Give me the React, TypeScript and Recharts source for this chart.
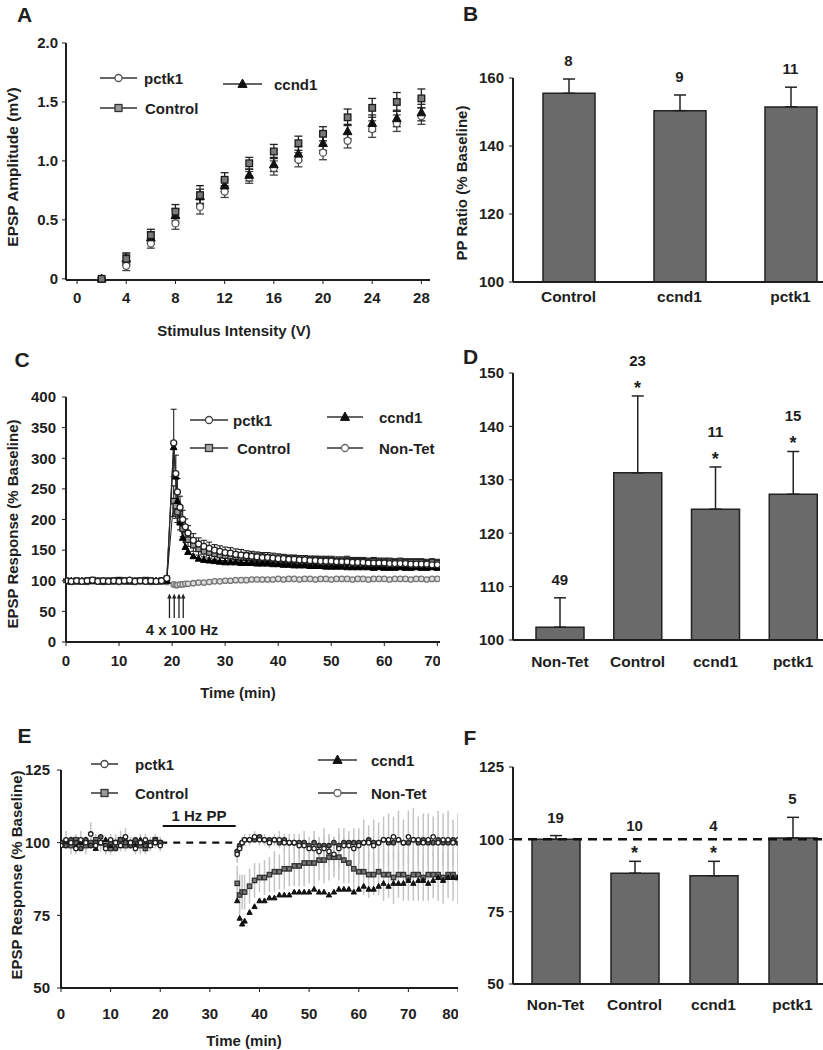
import React from 'react'
import { ComposedChart, Line, Bar, XAxis, YAxis, ErrorBar, ReferenceLine, ReferenceDot, LabelList } from 'recharts'

const FONT = "'Liberation Sans', Arial, Helvetica, sans-serif"
const INK = '#1e1e1e'
const BAR = '#6a6a6a'

// ---- A: input / output curve
const stimV = [2, 4, 6, 8, 10, 12, 14, 16, 18, 20, 22, 24, 26, 28]
const ampControl = [0, 0.17, 0.37, 0.57, 0.71, 0.84, 0.98, 1.08, 1.15, 1.23, 1.37, 1.45, 1.5, 1.53]
const ampCcnd1 = [0, 0.17, 0.35, 0.54, 0.7, 0.79, 0.88, 0.97, 1.06, 1.15, 1.25, 1.32, 1.36, 1.41]
const ampPctk1 = [0, 0.11, 0.3, 0.47, 0.61, 0.74, 0.86, 0.94, 1.01, 1.07, 1.17, 1.27, 1.32, 1.38]
const semControl = [0.01, 0.05, 0.05, 0.06, 0.08, 0.06, 0.05, 0.06, 0.06, 0.06, 0.07, 0.08, 0.08, 0.08]
const semCcnd1 = [0.01, 0.04, 0.05, 0.05, 0.06, 0.05, 0.05, 0.06, 0.06, 0.06, 0.06, 0.07, 0.07, 0.07]
const semPctk1 = [0.01, 0.04, 0.04, 0.05, 0.06, 0.05, 0.05, 0.06, 0.06, 0.06, 0.06, 0.07, 0.07, 0.07]

// ---- B: paired-pulse ratio
const ppGroups = ['Control', 'ccnd1', 'pctk1']
const ppMean = [155.5, 150.4, 151.5]
const ppSem = [4.2, 4.6, 5.8]
const ppN = ['8', '9', '11']
const ppSig = [false, false, false]

// ---- C: LTP time course
const tC = [0, 1, 2, 3, 4, 5, 6, 7, 8, 9, 10, 11, 12, 13, 14, 15, 16, 17, 18, 19,
  20.3, 20.7, 21, 21.5, 22, 22.5, 23,
  24, 25, 26, 27, 28, 29, 30, 31, 32, 33, 34, 35, 36, 37, 38, 39, 40, 41, 42, 43, 44, 45, 46, 47,
  48, 49, 50, 51, 52, 53, 54, 55, 56, 57, 58, 59, 60, 61, 62, 63, 64, 65, 66, 67, 68, 69, 70]
const ltpControl = [100, 99, 100, 99, 100, 101, 100, 99, 100, 100, 101, 100, 99, 100, 100, 101, 100, 99, 100, 101,
  230, 222, 212, 198, 185, 175, 167,
  158, 152, 148, 146, 144, 142, 141, 140, 139, 138, 138, 137, 137, 136, 136, 135, 135, 135, 134, 134,
  134, 134, 133, 133, 133, 133, 133, 132, 132, 133, 132, 132, 132, 131, 132, 131, 131, 131, 130, 131,
  130, 130, 130, 130, 129, 130, 129]
const ltpCcnd1 = [99, 100, 99, 100, 99, 100, 99, 100, 99, 99, 100, 99, 100, 99, 100, 99, 99, 100, 99, 100,
  318, 270, 230, 195, 170, 155, 147,
  140, 136, 134, 133, 132, 131, 130, 130, 130, 129, 129, 129, 128, 128, 128, 127, 127, 126, 126, 125,
  125, 125, 124, 124, 124, 123, 123, 123, 123, 122, 122, 122, 122, 122, 121, 122, 121, 121, 121, 122,
  121, 121, 122, 121, 121, 122, 121]
const ltpPctk1 = [100, 99, 100, 99, 100, 101, 99, 100, 99, 100, 99, 100, 101, 99, 100, 99, 100, 99, 100, 104,
  325, 275, 245, 220, 200, 188, 178,
  166, 160, 156, 153, 150, 148, 146, 145, 143, 142, 141, 140, 139, 138, 138, 137, 136, 136, 135, 135,
  134, 134, 133, 133, 132, 132, 132, 131, 131, 131, 130, 130, 130, 129, 129, 129, 129, 128, 128, 128,
  128, 127, 127, 127, 127, 126, 126]
const ltpNonTet = [99, 98, 99, 99, 98, 99, 99, 98, 99, 99, 98, 99, 99, 98, 99, 99, 98, 99, 99, 98,
  94, 93, 93, 94, 94, 95, 95,
  96, 97, 97, 98, 99, 99, 100, 100, 101, 101, 101, 102, 102, 102, 102, 102, 103, 102, 103, 103,
  102, 103, 103, 102, 103, 103, 102, 103, 103, 103, 102, 103, 103, 102, 103, 103, 103, 102, 103, 103,
  103, 102, 103, 103, 102, 103, 103]
const errPctk1C = [3, 3, 3, 2, 3, 3, 3, 2, 3, 3, 3, 3, 2, 3, 3, 3, 3, 2, 3, 4,
  55, 30, 22, 18, 15, 13, 12,
  11, 10, 10, 10, 9, 9, 9, 9, 9, 9, 8, 8, 8, 8, 8, 8, 8, 7, 7, 7,
  7, 7, 7, 7, 7, 7, 6, 6, 6, 6, 6, 6, 6, 6, 6, 6, 6, 6, 6, 6,
  6, 6, 6, 6, 6, 6, 6]
const errControlC = [2, 2, 2, 2, 2, 2, 2, 2, 2, 2, 2, 2, 2, 2, 2, 2, 2, 2, 2, 2,
  25, 20, 17, 15, 13, 12, 11,
  10, 10, 9, 9, 9, 9, 8, 8, 8, 8, 8, 8, 8, 8, 7, 7, 7, 7, 7, 7,
  7, 7, 7, 7, 7, 7, 7, 7, 7, 7, 6, 6, 6, 6, 6, 6, 6, 6, 6, 6,
  6, 6, 6, 6, 6, 6, 6]
const tetanusT = [19.5, 20.4, 21.3, 22.1]

// ---- D: LTP summary
const ltpGroups = ['Non-Tet', 'Control', 'ccnd1', 'pctk1']
const ltpMean = [102.4, 131.3, 124.5, 127.3]
const ltpSem = [5.5, 14.4, 7.9, 8.0]
const ltpN = ['49', '23', '11', '15']
const ltpSig = [false, true, true, true]

// ---- E: LTD time course
const tE = [0, 1, 2, 3, 4, 5, 6, 7, 8, 9, 10, 11, 12, 13, 14, 15, 16, 17, 18, 19, 20,
  35.5, 36, 36.5, 37,
  38, 39, 40, 41, 42, 43, 44, 45, 46, 47, 48, 49, 50, 51, 52, 53, 54, 55, 56, 57, 58, 59,
  60, 61, 62, 63, 64, 65, 66, 67, 68, 69, 70, 71, 72, 73, 74, 75, 76, 77, 78, 79, 80]
const ltdNonTet = [100, 99, 101, 100, 98, 101, 99, 100, 102, 99, 100, 98, 101, 100, 99, 101, 100, 99, 100, 101, 100,
  97, 99, 100, 101,
  101, 101, 102, 101, 101, 101, 100, 101, 100, 100, 100, 100, 99, 100, 99, 99, 99, 100, 99, 100,
  100, 100, 100, 100, 101, 100, 100, 101, 100, 100, 101, 100, 100, 101, 100, 101, 100, 100, 101, 100,
  100, 101, 100]
const ltdPctk1 = [99, 101, 100, 98, 101, 100, 103, 99, 100, 98, 101, 100, 99, 102, 100, 98, 100, 101, 99, 100, 99,
  96, 98, 100, 101,
  101, 102, 101, 101, 100, 101, 101, 100, 100, 100, 99, 99, 98, 98, 97, 98, 97, 96, 98, 99,
  99, 98, 99, 100, 100, 99, 100, 101, 101, 102, 101, 100, 102, 101, 101, 100, 101, 102, 100, 101,
  101, 100, 101]
const ltdControl = [100, 100, 99, 101, 100, 99, 100, 101, 100, 99, 98, 100, 101, 99, 100, 100, 99, 98, 100, 101, 100,
  86, 82, 83, 83,
  85, 87, 88, 88, 89, 90, 90, 91, 91, 92, 92, 93, 93, 93, 94, 94, 95, 95, 95, 94,
  93, 91, 90, 90, 89, 89, 90, 89, 89, 88, 89, 89, 88, 89, 89, 88, 89, 89, 89, 88,
  89, 89, 88]
const ltdCcnd1 = [99, 100, 101, 99, 100, 101, 99, 98, 100, 101, 99, 100, 99, 101, 100, 99, 101, 100, 99, 100, 100,
  80, 74, 72, 73,
  76, 78, 80, 80, 81, 81, 82, 82, 82, 83, 83, 83, 83, 84, 83, 83, 82, 83, 84, 84,
  84, 83, 84, 85, 84, 84, 85, 86, 85, 86, 86, 86, 87, 86, 87, 87, 86, 87, 88, 87,
  88, 88, 88]
const errControlE = [2, 2, 3, 2, 2, 3, 2, 2, 2, 3, 2, 2, 3, 2, 2, 2, 3, 2, 2, 2, 2,
  6, 7, 6, 6,
  6, 6, 5, 6, 6, 7, 6, 7, 6, 7, 7, 8, 7, 8, 7, 8, 8, 7, 8, 8,
  7, 8, 7, 8, 8, 7, 8, 9, 8, 9, 8, 9, 8, 9, 9, 8, 9, 8, 9, 9,
  8, 9, 9]
const errPctk1E = [2, 3, 2, 2, 3, 2, 4, 2, 3, 2, 2, 3, 2, 3, 2, 2, 3, 2, 2, 2, 2,
  3, 2, 2, 2,
  2, 2, 2, 2, 2, 2, 3, 3, 3, 3, 4, 5, 4, 6, 5, 7, 5, 6, 7, 6,
  5, 7, 6, 8, 6, 9, 7, 8, 9, 7, 10, 8, 9, 11, 8, 10, 9, 7, 11, 9,
  10, 8, 9]

// ---- F: LTD summary
const ltdGroups = ['Non-Tet', 'Control', 'ccnd1', 'pctk1']
const ltdMean = [100, 88.3, 87.4, 100.5]
const ltdSem = [1.3, 4.1, 5.0, 7.1]
const ltdN = ['19', '10', '4', '5']
const ltdSig = [false, true, true, false]

const tick = { fill: INK, fontSize: 15, fontWeight: 700, fontFamily: FONT }
const axisLine = { stroke: INK, strokeWidth: 2 }

type Kind = 'circle' | 'square' | 'triangle'

function mark(kind: Kind, cx: number, cy: number, s: number, fill: string, stroke: string, key?: any) {
  if (kind === 'circle') return <circle key={key} cx={cx} cy={cy} r={s} fill={fill} stroke={stroke} strokeWidth={1.3} />
  if (kind === 'square') return <rect key={key} x={cx - s} y={cy - s} width={s * 2} height={s * 2} fill={fill} stroke={stroke} strokeWidth={1.3} />
  return <path key={key} d={`M${cx},${cy - s * 1.25}L${cx + s * 1.15},${cy + s * 0.85}L${cx - s * 1.15},${cy + s * 0.85}Z`} fill={fill} stroke={stroke} strokeWidth={1} />
}

const dotFn = (kind: Kind, s: number, fill: string, stroke: string) => (p: any) => {
  if (p.cx == null || p.cy == null || p.value == null) return <g key={p.key} />
  return mark(kind, p.cx, p.cy, s, fill, stroke, p.key)
}

function T({ x, y, children, size = 15, anchor = 'middle', rotate = false }: any) {
  const tx = anchor === 'middle' ? '-50%' : anchor === 'start' ? '0' : '-100%'
  return (
    <div style={{
      position: 'absolute', left: x, top: y, whiteSpace: 'nowrap', lineHeight: 1,
      transform: `translate(${tx}, -50%)${rotate ? ' rotate(-90deg)' : ''}`,
      fontFamily: FONT, fontWeight: 700, fontSize: size, color: INK,
    }}>{children}</div>
  )
}

function Key({ x1, x2, y, tx, kind, fill, stroke, label }: any) {
  const w = x2 - x1
  return (
    <>
      <svg style={{ position: 'absolute', left: x1, top: y - 8 }} width={w} height={16}>
        <line x1={0} y1={8} x2={w} y2={8} stroke="#333" strokeWidth={1.5} />
        {mark(kind, w / 2, 8, kind === 'triangle' ? 4 : 3.5, fill, stroke)}
      </svg>
      <T x={tx} y={y} anchor="start">{label}</T>
    </>
  )
}

const countLabel = (p: any) => {
  const vb = p.viewBox || {}
  const cx = (vb.x ?? p.x) + (vb.width ?? 0) / 2
  const cy = vb.y ?? p.y
  const s = String(p.value ?? '')
  const star = s.endsWith('*')
  const num = star ? s.slice(0, -1) : s
  return (
    <text textAnchor="middle" fontFamily={FONT} fontWeight={700} fontSize={15} fill={INK}>
      <tspan x={cx} y={cy - (star ? 30 : 13)}>{num}</tspan>
      {star && <tspan x={cx} y={cy - 2} fontSize={18}>*</tspan>}
    </text>
  )
}

function BarPanel({ x, y, w, h, top, xh, tm, groups, mean, sem, n, sig, domain, ticks, pad, bw, dashed }: any) {
  const rows = groups.map((g: string, i: number) => ({
    g, m: mean[i], e: [0, sem[i]], hi: mean[i] + sem[i], lab: n[i] + (sig[i] ? '*' : ''),
  }))
  return (
    <div style={{ position: 'absolute', left: x, top: y }}>
      <ComposedChart width={w} height={h} data={rows} margin={{ top, right: 0, bottom: 0, left: 0 }}>
        <XAxis dataKey="g" height={xh} tickLine={false} tickSize={0} tickMargin={tm} axisLine={axisLine}
          tick={{ ...tick, fontSize: 15.5 }} padding={{ left: pad, right: 0 }} interval={0} />
        <YAxis type="number" domain={domain} ticks={ticks} width={93} tickSize={4} tickMargin={5}
          axisLine={axisLine} tickLine={{ stroke: INK }} tick={tick} allowDataOverflow />
        <Bar dataKey="m" fill={BAR} stroke="#222" strokeWidth={1.5} barSize={bw} isAnimationActive={false}>
          <ErrorBar dataKey="e" width={6} stroke="#222" strokeWidth={1.5} />
        </Bar>
        {dashed && <ReferenceLine y={100} stroke="#111" strokeWidth={2.5} strokeDasharray="9 6" />}
        <Line dataKey="hi" stroke="none" dot={false} activeDot={false} isAnimationActive={false}>
          <LabelList dataKey="lab" content={countLabel} />
        </Line>
      </ComposedChart>
    </div>
  )
}

export default function App() {
  const rowsA = stimV.map((v, i) => ({
    v, c: ampControl[i], d: ampCcnd1[i], p: ampPctk1[i], ec: semControl[i], ed: semCcnd1[i], ep: semPctk1[i],
  }))
  const rowsC = tC.map((t, i) => ({
    t, c: ltpControl[i], d: ltpCcnd1[i], p: ltpPctk1[i], n: ltpNonTet[i], ep: errPctk1C[i], ec: errControlC[i],
  }))
  const rowsE = tE.map((t, i) => ({
    t, c: ltdControl[i], d: ltdCcnd1[i], p: ltdPctk1[i], n: ltdNonTet[i], ec: errControlE[i], ep: errPctk1E[i],
  }))

  return (
    <div style={{ position: 'absolute', left: 0, top: 0, width: 823, height: 1050, overflow: 'hidden', background: '#fff' }}>
      {/* A */}
      <div style={{ position: 'absolute', left: 0, top: 0 }}>
        <ComposedChart width={440} height={320} data={rowsA} margin={{ top: 43, right: 10, bottom: 0, left: 0 }}>
          <XAxis type="number" dataKey="v" domain={[-0.9, 28.7]} ticks={[0, 4, 8, 12, 16, 20, 24, 28]} allowDataOverflow
            height={40} tickSize={4} tickMargin={8} axisLine={axisLine} tickLine={{ stroke: INK }} tick={tick} />
          <YAxis type="number" domain={[0, 2]} ticks={[0, 0.5, 1, 1.5, 2]} width={66} tickSize={4} tickMargin={4}
            axisLine={axisLine} tickLine={{ stroke: INK }} tick={tick} tickFormatter={(v: number) => (v === 0 ? '0' : v.toFixed(1))} />
          <Line dataKey="p" stroke="none" isAnimationActive={false} activeDot={false} dot={dotFn('circle', 3.5, '#fff', '#555')}>
            <ErrorBar dataKey="ep" width={4} stroke="#444" strokeWidth={1.3} />
          </Line>
          <Line dataKey="d" stroke="none" isAnimationActive={false} activeDot={false} dot={dotFn('triangle', 3.8, '#111', '#111')}>
            <ErrorBar dataKey="ed" width={4} stroke="#222" strokeWidth={1.3} />
          </Line>
          <Line dataKey="c" stroke="none" isAnimationActive={false} activeDot={false} dot={dotFn('square', 3.3, '#7a7a7a', '#1a1a1a')}>
            <ErrorBar dataKey="ec" width={4} stroke="#222" strokeWidth={1.3} />
          </Line>
        </ComposedChart>
      </div>
      <T x={24.5} y={13.5} size={21}>A</T>
      <Key x1={100} x2={137} y={78} tx={144} kind="circle" fill="#fff" stroke="#555" label="pctk1" />
      <Key x1={100} x2={137} y={108} tx={145} kind="square" fill="#999" stroke="#333" label="Control" />
      <Key x1={223} x2={262} y={84} tx={274} kind="triangle" fill="#111" stroke="#111" label="ccnd1" />
      <T x={234} y={330}>Stimulus Intensity (V)</T>
      <T x={13} y={167} rotate size={15.5}>EPSP Amplitude (mV)</T>

      {/* B */}
      <BarPanel x={420} y={0} w={426} h={320} top={78} xh={38} tm={9} groups={ppGroups} mean={ppMean} sem={ppSem}
        n={ppN} sig={ppSig} domain={[100, 160]} ticks={[100, 120, 140, 160]} pad={0} bw={52} />
      <T x={470.5} y={13} size={21}>B</T>
      <T x={461} y={183} rotate>PP Ratio (% Baseline)</T>

      {/* C */}
      <div style={{ position: 'absolute', left: 0, top: 320 }}>
        <ComposedChart width={440} height={352} data={rowsC} margin={{ top: 77, right: 0, bottom: 0, left: 0 }}>
          <XAxis type="number" dataKey="t" domain={[0, 70.5]} ticks={[0, 10, 20, 30, 40, 50, 60, 70]} allowDataOverflow
            height={30} tickSize={4} tickMargin={9} axisLine={axisLine} tickLine={{ stroke: INK }} tick={tick} />
          <YAxis type="number" domain={[0, 400]} ticks={[0, 50, 100, 150, 200, 250, 300, 350, 400]} width={66}
            tickSize={4} tickMargin={6} axisLine={axisLine} tickLine={{ stroke: INK }} tick={tick} allowDataOverflow />
          <Line dataKey="n" stroke="#888" strokeWidth={1.2} isAnimationActive={false} activeDot={false}
            dot={dotFn('circle', 2.7, '#ddd', '#777')} />
          <Line dataKey="c" stroke="#222" strokeWidth={1} isAnimationActive={false} activeDot={false}
            dot={dotFn('square', 2.7, '#999', '#222')}>
            <ErrorBar dataKey="ec" width={3} stroke="#222" strokeWidth={1.1} />
          </Line>
          <Line dataKey="d" stroke="#000" strokeWidth={1.3} isAnimationActive={false} activeDot={false}
            dot={dotFn('triangle', 2.9, '#000', '#000')} />
          <Line dataKey="p" stroke="#333" strokeWidth={1} isAnimationActive={false} activeDot={false}
            dot={dotFn('circle', 3, '#fff', '#222')}>
            <ErrorBar dataKey="ep" width={3} stroke="#222" strokeWidth={1.1} />
          </Line>
          {tetanusT.map(t => (
            <ReferenceLine key={'l' + t} segment={[{ x: t, y: 39 }, { x: t, y: 74 }]} stroke="#222" strokeWidth={1.3} />
          ))}
          {tetanusT.map(t => (
            <ReferenceDot key={'d' + t} x={t} y={76} r={2} isFront
              shape={(p: any) => <path d={`M${p.cx - 2.2},${p.cy + 3}L${p.cx},${p.cy - 2}L${p.cx + 2.2},${p.cy + 3}Z`} fill="#222" />} />
          ))}
        </ComposedChart>
      </div>
      <T x={22} y={359} size={21}>C</T>
      <Key x1={190} x2={228} y={420} tx={233} kind="circle" fill="#fff" stroke="#444" label="pctk1" />
      <Key x1={190} x2={228} y={448} tx={237} kind="square" fill="#aaa" stroke="#333" label="Control" />
      <Key x1={327} x2={363} y={417} tx={379} kind="triangle" fill="#111" stroke="#111" label="ccnd1" />
      <Key x1={327} x2={363} y={448} tx={379} kind="circle" fill="#fff" stroke="#666" label="Non-Tet" />
      <T x={182} y={629}>4 x 100 Hz</T>
      <T x={238} y={692}>Time (min)</T>
      <T x={12} y={524} rotate>EPSP Response (% Baseline)</T>

      {/* D */}
      <BarPanel x={420} y={320} w={412} h={355} top={53} xh={35} tm={16} groups={ltpGroups} mean={ltpMean} sem={ltpSem}
        n={ltpN} sig={ltpSig} domain={[100, 150]} ticks={[100, 110, 120, 130, 140, 150]} pad={8} bw={48} />
      <T x={470.5} y={355.5} size={21}>D</T>

      {/* E */}
      <div style={{ position: 'absolute', left: 0, top: 700 }}>
        <ComposedChart width={458} height={328} data={rowsE} margin={{ top: 70, right: 0, bottom: 0, left: 0 }}>
          <XAxis type="number" dataKey="t" domain={[0, 80]} ticks={[0, 10, 20, 30, 40, 50, 60, 70, 80]} allowDataOverflow
            height={40} tickSize={4} tickMargin={16} axisLine={axisLine} tickLine={{ stroke: INK }} tick={tick} />
          <YAxis type="number" domain={[50, 125]} ticks={[50, 75, 100, 125]} width={61} tickSize={4} tickMargin={7}
            axisLine={axisLine} tickLine={{ stroke: INK }} tick={tick} allowDataOverflow />
          <ReferenceLine segment={[{ x: 20, y: 100 }, { x: 35, y: 100 }]} stroke="#111" strokeWidth={2.2} strokeDasharray="7 6" />
          <ReferenceLine segment={[{ x: 20.5, y: 105.7 }, { x: 35.2, y: 105.7 }]} stroke="#111" strokeWidth={2} />
          <Line dataKey="c" stroke="none" isAnimationActive={false} activeDot={false} dot={dotFn('square', 2.2, '#777', '#333')}>
            <ErrorBar dataKey="ec" width={0} stroke="#c4c4c4" strokeWidth={1.5} />
          </Line>
          <Line dataKey="d" stroke="none" isAnimationActive={false} activeDot={false} dot={dotFn('triangle', 2.3, '#111', '#111')} />
          <Line dataKey="n" stroke="none" isAnimationActive={false} activeDot={false} dot={dotFn('circle', 2.2, '#666', '#222')} />
          <Line dataKey="p" stroke="none" isAnimationActive={false} activeDot={false} dot={dotFn('circle', 2.2, '#fff', '#222')}>
            <ErrorBar dataKey="ep" width={0} stroke="#c4c4c4" strokeWidth={1.5} />
          </Line>
        </ComposedChart>
      </div>
      <T x={24.5} y={734.5} size={21}>E</T>
      <Key x1={91} x2={118} y={764} tx={135} kind="circle" fill="#fff" stroke="#444" label="pctk1" />
      <Key x1={91} x2={118} y={793} tx={135} kind="square" fill="#999" stroke="#333" label="Control" />
      <Key x1={318} x2={357} y={760} tx={371} kind="triangle" fill="#111" stroke="#111" label="ccnd1" />
      <Key x1={318} x2={357} y={793} tx={371} kind="circle" fill="#fff" stroke="#666" label="Non-Tet" />
      <T x={199} y={815}>1 Hz PP</T>
      <T x={244} y={1040}>Time (min)</T>
      <T x={16} y={875} rotate>EPSP Response (% Baseline)</T>

      {/* F */}
      <BarPanel x={420} y={700} w={412} h={319} top={67} xh={35} tm={15} groups={ltdGroups} mean={ltdMean} sem={ltdSem}
        n={ltdN} sig={ltdSig} domain={[50, 125]} ticks={[50, 75, 100, 125]} pad={3} bw={48} dashed />
      <T x={470} y={736.5} size={21}>F</T>
    </div>
  )
}
